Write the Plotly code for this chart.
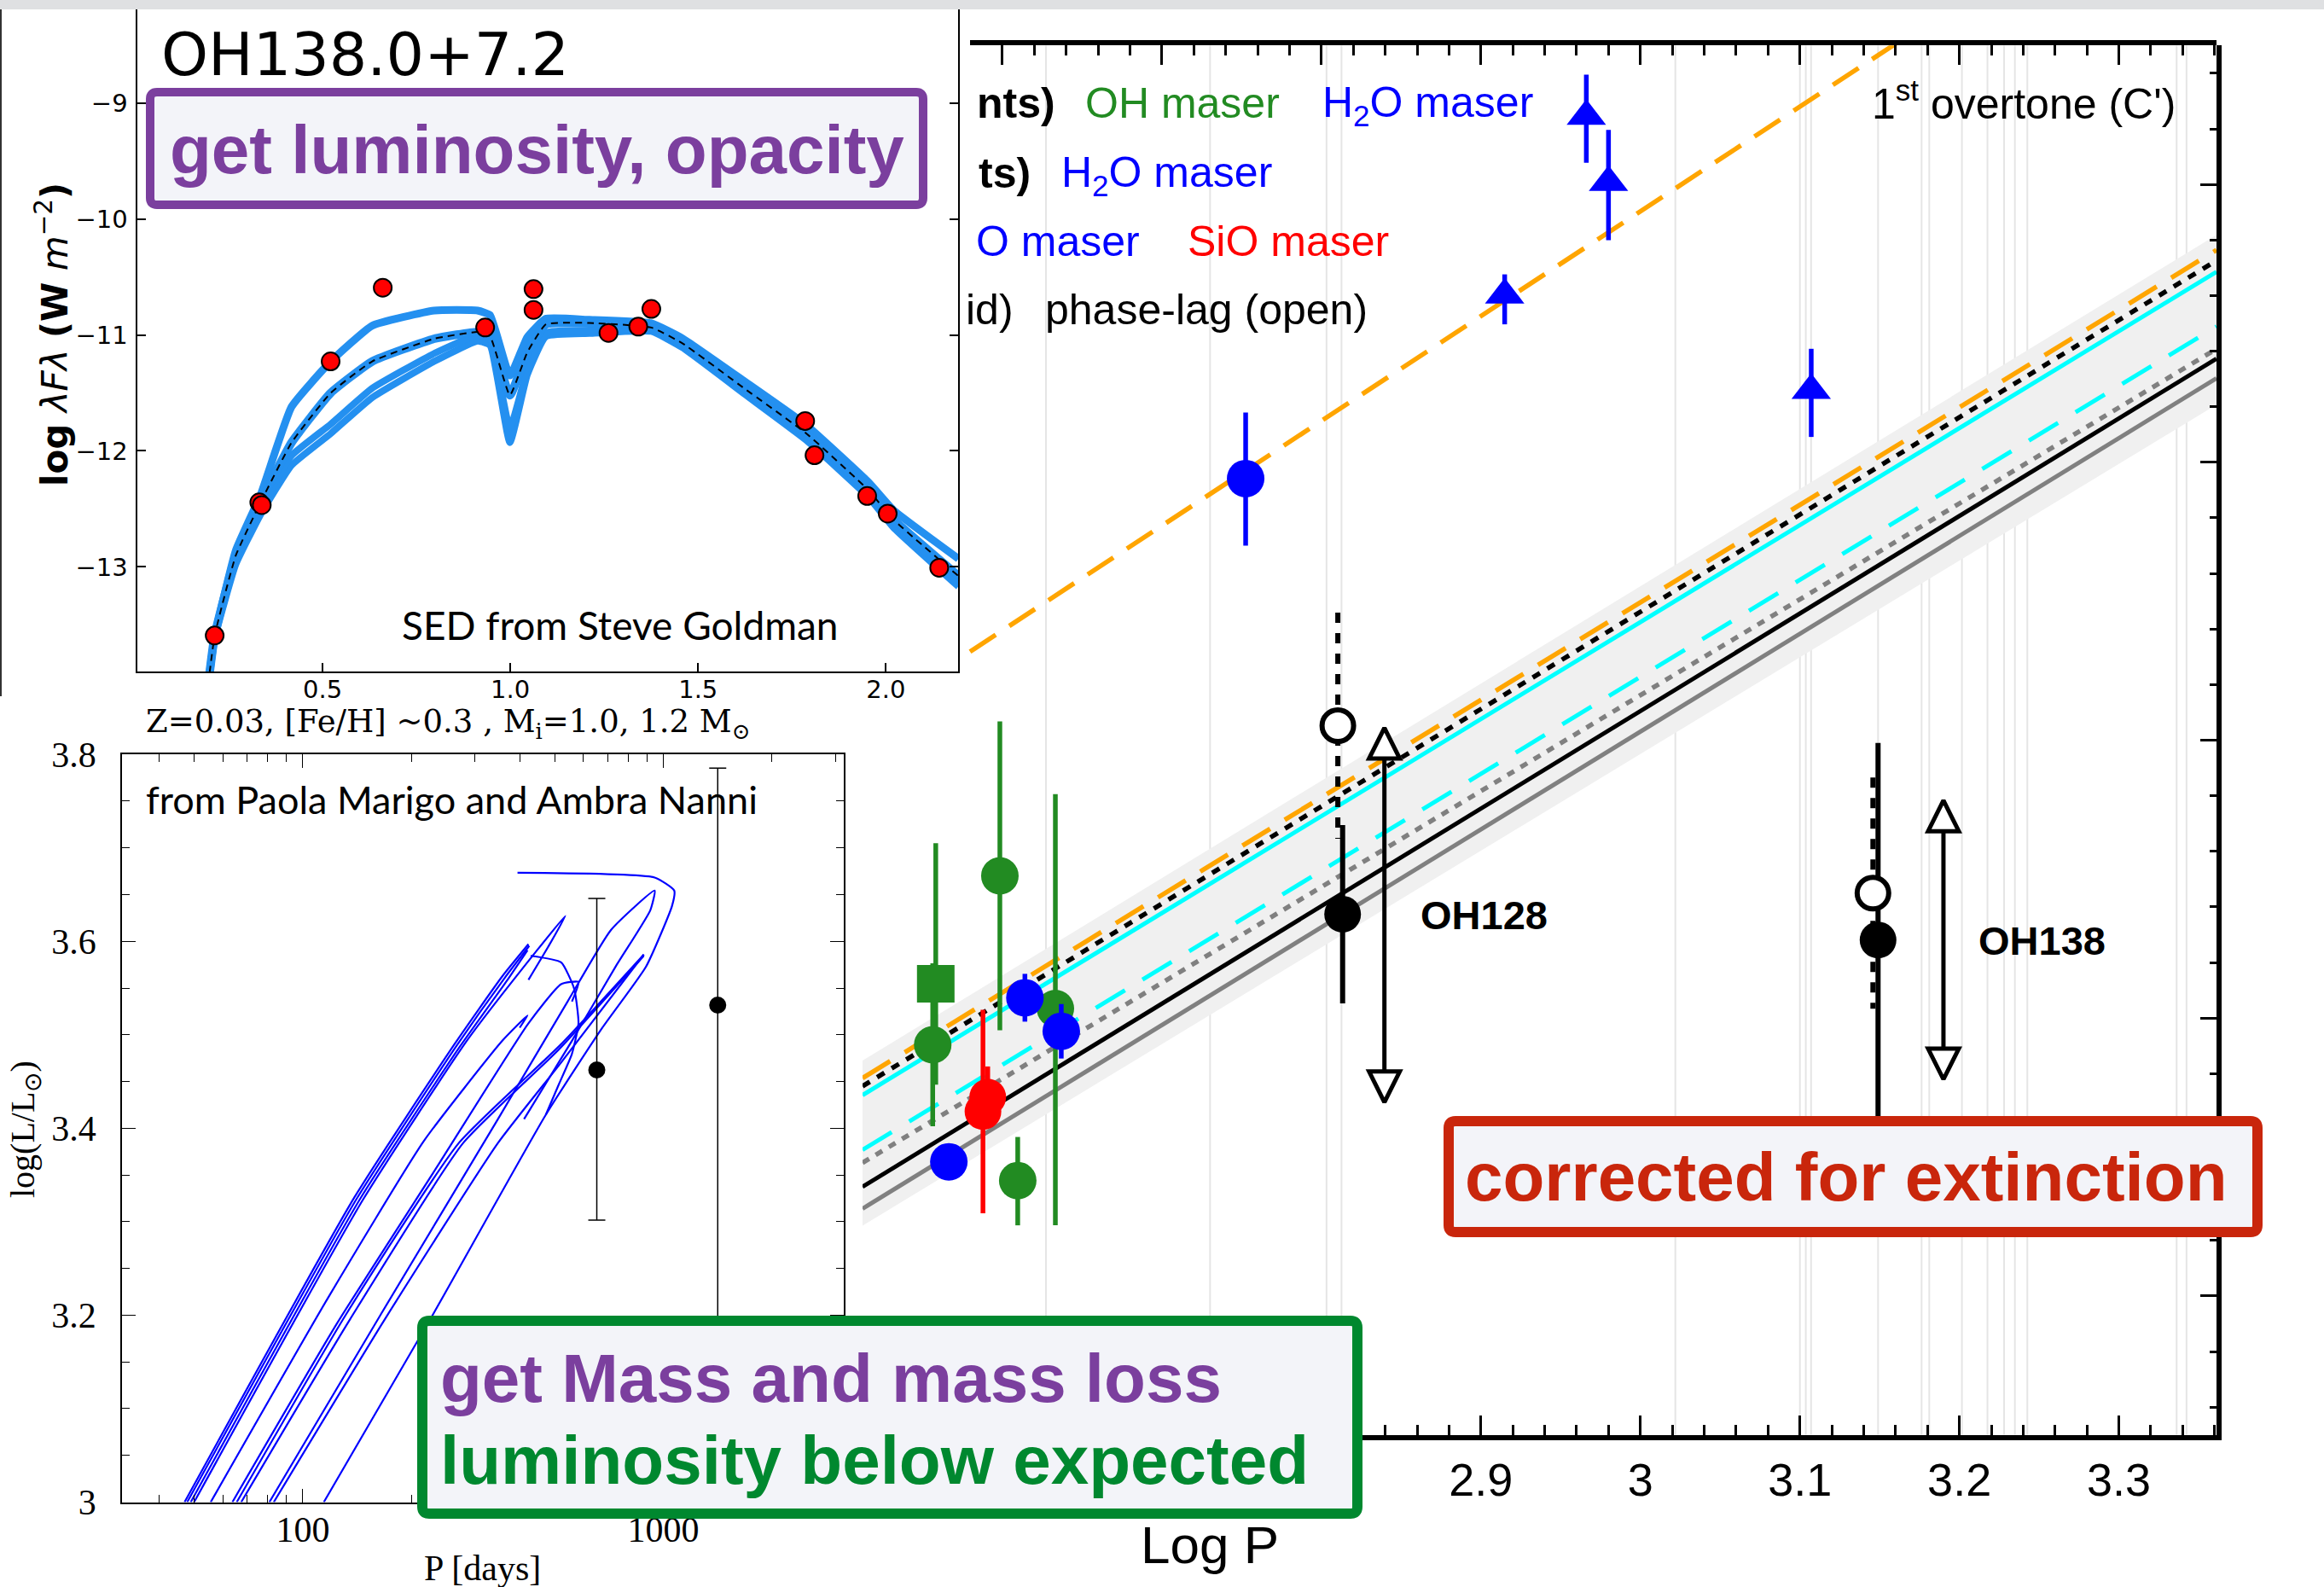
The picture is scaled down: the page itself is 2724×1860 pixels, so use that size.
import plotly.graph_objects as go

W, H = 2724, 1860


def fx(x):
    """pixel column -> paper x"""
    return x / W


def fy(y):
    """pixel row (from top) -> paper y"""
    return 1 - y / H


# ------------------------------------------------------------------
# Main panel: M_K against log P
# ------------------------------------------------------------------
LOGP_RANGE = [2.5123, 3.3612]
MK_RANGE = [-5.5, -10.5]          # reversed axis, bright at the top

# period-luminosity relations  M_K = slope * (logP - 2.5) + zp
pl_slope = [-3.52, -3.51, -3.45, -3.49, -3.49, -3.50, -3.51]
pl_zp = [-6.271, -6.350, -6.437, -6.483, -6.680, -6.712, -6.741]
band_slope = [-3.50, -3.48]
band_zp = [-6.804, -6.2105]
overtone_slope = -3.77
overtone_zp = -8.018
overtone_logp_start = 2.5797

# bottom-axis labels (the left part of the axis sits under the green box)
logp_tickvals = [2.6, 2.7, 2.8, 2.9, 3.0, 3.1, 3.2, 3.3]
logp_ticktext = ["", "", "", "2.9", "3", "3.1", "3.2", "3.3"]

# log P of the individual objects (thin guide lines)
period_logp = [2.6273, 2.7302, 2.8032, 2.8126, 3.0219, 3.1000, 3.1037, 3.1070,
               3.1490, 3.1763, 3.1811, 3.2016, 3.2176, 3.2280, 3.2348, 3.2426,
               3.3362, 3.3424]

# OH masers
oh_logp = [2.5582, 2.5563, 2.5984, 2.6332, 2.6096]
oh_mk = [-7.1233, -6.904, -7.512, -7.0343, -6.4153]
oh_err_bright = [0.506, 0.293, 0.556, 0.772, 0.157]
oh_err_faint = [0.363, 0.293, 0.556, 0.780, 0.161]
oh_kind = ["square", "circle", "circle", "circle", "circle"]

# SiO masers
sio_logp = [2.5908, 2.5878]
sio_mk = [-6.716, -6.664]
sio_err = [0.11, 0.366]

# H2O masers (points)
h2o_logp = [2.5664, 2.6141, 2.6369, 2.7525]
h2o_mk = [-6.4828, -7.0733, -6.9526, -8.9415]
h2o_err_bright = [0.0, 0.086, 0.098, 0.238]
h2o_err_faint = [0.0, 0.086, 0.098, 0.2415]

# H2O masers (lower limits)
h2o_lim_logp = [2.9661, 2.9800, 2.9149, 3.1071]
h2o_lim_mk = [-10.2455, -10.0075, -9.6022, -9.2587]
h2o_lim_err_bright = [0.1495, 0.1885, 0.0741, 0.1498]
h2o_lim_err_faint = [0.1675, 0.2078, 0.1056, 0.1674]

# OH/IR targets: distance from parallax (solid) and phase-lag (open)
target_name = ["OH128", "OH138"]
target_logp = [2.8133, 3.1490]
target_mk = [-7.374, -7.281]
target_err = [0.321, 0.709]
lag_logp = [2.8103, 3.1458]
lag_mk = [-8.0523, -7.450]
lag_err = [0.407, 0.416]
ext_logp = [2.8395, 3.1900]
ext_bright = [-8.0443, -7.7830]
ext_faint = [-6.6974, -6.7797]

# ------------------------------------------------------------------
# SED inset (OH138.0+7.2)
# ------------------------------------------------------------------
sed_logwl = [0.2126, 0.3314, 0.3380, 0.5214, 0.6602, 0.9329, 1.0617, 1.0617,
             1.2614, 1.3407, 1.3755, 1.7852, 1.8100, 1.9503, 2.0049, 2.1421]
sed_flux = [-13.592, -12.444, -12.467, -11.228, -10.593, -10.936, -10.605,
            -10.784, -10.983, -10.928, -10.776, -11.742, -12.038, -12.389,
            -12.541, -13.008]

model_logwl = [0.199, 0.2126, 0.2687, 0.3348, 0.4173, 0.5214, 0.6321, 0.7972,
               0.9129, 0.946, 0.9988, 1.0451, 1.0947, 1.2103, 1.3755, 1.4582,
               1.6234, 1.7886, 1.9538, 2.0199, 2.1934]
model_best = [-13.916, -13.592, -12.903, -12.444, -11.929, -11.501, -11.228,
              -11.033, -10.975, -11.014, -11.520, -11.150, -10.909, -10.897,
              -10.936, -11.072, -11.462, -11.851, -12.339, -12.591, -13.079]
model_hot = [-13.916, -13.600, -12.860, -12.380, -11.620, -11.230, -10.920,
             -10.790, -10.790, -10.830, -11.350, -11.020, -10.860, -10.870,
             -10.900, -11.030, -11.400, -11.780, -12.270, -12.510, -12.930]
model_thick_a = [-13.916, -13.610, -12.950, -12.500, -12.040, -11.770, -11.460,
                 -11.160, -11.000, -11.040, -11.800, -11.300, -10.980, -10.960,
                 -10.950, -11.090, -11.490, -11.880, -12.370, -12.620, -13.130]
model_thick_b = [-13.916, -13.620, -12.980, -12.550, -12.124, -11.851, -11.540,
                 -11.228, -11.053, -11.090, -11.929, -11.345, -11.014, -10.987,
                 -10.970, -11.110, -11.510, -11.910, -12.400, -12.660, -13.170]

# ------------------------------------------------------------------
# Evolutionary-track inset: log L against period (days)
# ------------------------------------------------------------------
tracks = [
    ([47.0, 139.0, 263.4, 357.6, 422.6], [3.0, 3.326, 3.4899, 3.5626, 3.597]),
    ([47.8, 141.3, 267.8, 363.6, 424.9], [3.0, 3.325, 3.489, 3.5612, 3.5952]),
    ([48.9, 144.5, 272.4, 369.8, 420.2], [3.0, 3.325, 3.4871, 3.5588, 3.5905]),
    ([49.96, 146.9, 286.4, 446.6, 535.1, 478.8, 422.6],
     [3.0, 3.3236, 3.4946, 3.5905, 3.6273, 3.5938, 3.5588]),
    ([55.54, 117.6, 216.8, 357.6, 420.2, 399.6],
     [3.0, 3.2188, 3.3865, 3.4936, 3.5207, 3.5076]),
    ([63.8, 124.3, 235.6, 422.6, 520.5, 581.7, 557.9],
     [3.0, 3.1909, 3.3586, 3.5123, 3.5542, 3.5565, 3.5356]),
    ([65.6, 131.5, 270.9, 520.5, 882.8], [3.0, 3.2002, 3.3842, 3.4899, 3.5859]),
    ([67.5, 135.2, 278.5, 513.3, 882.8], [3.0, 3.1955, 3.3842, 3.4843, 3.5845]),
    ([80.8, 164.2, 347.8, 542.6, 716.5, 946.2, 920.3, 736.8, 557.9, 410.9],
     [3.0, 3.2002, 3.4098, 3.5356, 3.6124, 3.6543, 3.6333, 3.5728, 3.4936, 3.4098]),
    ([83.1, 168.8, 347.8, 520.5, 882.8], [3.0, 3.1955, 3.3842, 3.4703, 3.5859]),
    ([114.4, 229.2, 472.2, 677.7, 895.1, 1057.4, 1072.2, 946.2, 394.1],
     [3.0, 3.2002, 3.4145, 3.5076, 3.5728, 3.638, 3.6543, 3.6683, 3.6734]),
    ([428.5, 520.5, 565.7, 581.7, 557.9, 513.3, 472.2],
     [3.5845, 3.5775, 3.5495, 3.5123, 3.4797, 3.4471, 3.4145]),
]
star_period = [653.9, 1415.6]
star_logl = [3.4624, 3.5318]
star_err_up = [0.1835, 0.2536]
star_err_down = [0.1607, 0.35]

ARIAL = "Liberation Sans, Arial, Helvetica, sans-serif"
DEJAVU = "DejaVu Sans, sans-serif"
SERIF = "Liberation Serif, Times New Roman, serif"
GILL = "Lato, Open Sans, sans-serif"

fig = go.Figure()


def pl_line(slope, zp, x0, x1):
    return [x0, x1], [slope * (x0 - 2.5) + zp, slope * (x1 - 2.5) + zp]


# thin guide lines at each object's period
gx, gy = [], []
for lp in period_logp:
    gx += [lp, lp, None]
    gy += [MK_RANGE[1], MK_RANGE[0], None]
fig.add_trace(go.Scatter(x=gx, y=gy, mode="lines", hoverinfo="skip",
                         line=dict(color="#e5e5e5", width=2), xaxis="x", yaxis="y"))

# scatter band around the relations
x0, x1 = LOGP_RANGE
_, top = pl_line(band_slope[0], band_zp[0], x0, x1)
_, bot = pl_line(band_slope[1], band_zp[1], x0, x1)
fig.add_trace(go.Scatter(x=[x0, x1, x1, x0], y=[top[0], top[1], bot[1], bot[0]],
                         mode="lines", fill="toself", fillcolor="#f0f0f0",
                         line=dict(width=0), hoverinfo="skip", xaxis="x", yaxis="y"))

pl_style = [
    dict(color="#808080", width=5),
    dict(color="#000000", width=5),
    dict(color="#808080", width=5.5, dash="9px,9px"),
    dict(color="#00ffff", width=5, dash="40px,24px"),
    dict(color="#00ffff", width=5),
    dict(color="#000000", width=5.5, dash="10px,10px"),
    dict(color="#ffa500", width=5.5, dash="38px,20px"),
]
for s, z, st in zip(pl_slope, pl_zp, pl_style):
    lx, ly = pl_line(s, z, x0, x1)
    fig.add_trace(go.Scatter(x=lx, y=ly, mode="lines", line=st, hoverinfo="skip",
                             xaxis="x", yaxis="y"))

lx, ly = pl_line(overtone_slope, overtone_zp, overtone_logp_start, x1)
fig.add_trace(go.Scatter(x=lx, y=ly, mode="lines", hoverinfo="skip",
                         line=dict(color="#ffa500", width=5.5, dash="36px,19px"),
                         xaxis="x", yaxis="y"))

# maser samples
fig.add_trace(go.Scatter(
    x=oh_logp, y=oh_mk, mode="markers", xaxis="x", yaxis="y",
    marker=dict(symbol=oh_kind, size=44, color="#228b22"),
    error_y=dict(type="data", array=oh_err_faint, arrayminus=oh_err_bright,
                 color="#228b22", thickness=5.5, width=0)))
fig.add_trace(go.Scatter(
    x=sio_logp, y=sio_mk, mode="markers", xaxis="x", yaxis="y",
    marker=dict(symbol="circle", size=43, color="#ff0000"),
    error_y=dict(type="data", array=sio_err, color="#ff0000", thickness=5.5, width=0)))
fig.add_trace(go.Scatter(
    x=h2o_logp, y=h2o_mk, mode="markers", xaxis="x", yaxis="y",
    marker=dict(symbol="circle", size=44, color="#0000ff"),
    error_y=dict(type="data", array=h2o_err_faint, arrayminus=h2o_err_bright,
                 color="#0000ff", thickness=5.5, width=0)))
fig.add_trace(go.Scatter(
    x=h2o_lim_logp, y=h2o_lim_mk, mode="markers", xaxis="x", yaxis="y",
    marker=dict(symbol="triangle-up", size=40, color="#0000ff"),
    error_y=dict(type="data", array=h2o_lim_err_faint, arrayminus=h2o_lim_err_bright,
                 color="#0000ff", thickness=5.5, width=0)))

# OH/IR targets
for i in range(len(target_name)):
    fig.add_trace(go.Scatter(
        x=[lag_logp[i], lag_logp[i]],
        y=[lag_mk[i] - lag_err[i], lag_mk[i] + lag_err[i]],
        mode="lines", line=dict(color="black", width=6, dash="12px,12px"),
        hoverinfo="skip", xaxis="x", yaxis="y"))
    fig.add_trace(go.Scatter(
        x=[target_logp[i], target_logp[i]],
        y=[target_mk[i] - target_err[i], target_mk[i] + target_err[i]],
        mode="lines", line=dict(color="black", width=6),
        hoverinfo="skip", xaxis="x", yaxis="y"))
    fig.add_trace(go.Scatter(
        x=[lag_logp[i]], y=[lag_mk[i]], mode="markers", xaxis="x", yaxis="y",
        marker=dict(symbol="circle", size=37, color="white",
                    line=dict(color="black", width=6))))
    fig.add_trace(go.Scatter(
        x=[target_logp[i]], y=[target_mk[i]], mode="markers", xaxis="x", yaxis="y",
        marker=dict(symbol="circle", size=43, color="black")))
    fig.add_trace(go.Scatter(
        x=[ext_logp[i], ext_logp[i]], y=[ext_bright[i], ext_faint[i]],
        mode="lines+markers", xaxis="x", yaxis="y", hoverinfo="skip",
        line=dict(color="black", width=5),
        marker=dict(symbol=["arrow-up", "arrow-down"], size=36, color="white",
                    line=dict(color="black", width=5))))

# top axis of the main panel (its own subplot so it starts right of the SED inset)
fig.add_trace(go.Scatter(x=[None], y=[None], xaxis="x3", yaxis="y3", hoverinfo="skip"))

# SED inset
for ys, wdt in [(model_thick_b, 8), (model_thick_a, 8), (model_hot, 9), (model_best, 10)]:
    fig.add_trace(go.Scatter(x=model_logwl, y=ys, mode="lines", hoverinfo="skip",
                             line=dict(color="#2490f0", width=wdt, shape="spline",
                                       smoothing=0.4),
                             xaxis="x2", yaxis="y2"))
fig.add_trace(go.Scatter(x=model_logwl, y=model_best, mode="lines", hoverinfo="skip",
                         line=dict(color="black", width=2, dash="8px,6px",
                                   shape="spline", smoothing=0.4),
                         xaxis="x2", yaxis="y2"))
fig.add_trace(go.Scatter(x=sed_logwl, y=sed_flux, mode="markers", xaxis="x2", yaxis="y2",
                         marker=dict(size=21, color="#ff0000",
                                     line=dict(color="black", width=2))))

# evolutionary-track inset
for tp, tl in tracks:
    fig.add_trace(go.Scatter(x=tp, y=tl, mode="lines", hoverinfo="skip",
                             line=dict(color="#0000ff", width=2.2, shape="spline",
                                       smoothing=0.5),
                             xaxis="x4", yaxis="y4"))
fig.add_trace(go.Scatter(x=star_period, y=star_logl, mode="markers", xaxis="x4", yaxis="y4",
                         marker=dict(size=20, color="black"),
                         error_y=dict(type="data", array=star_err_up,
                                      arrayminus=star_err_down, color="black",
                                      thickness=1.5, width=10)))

# ------------------------------------------------------------------
# axes
# ------------------------------------------------------------------
main_ydom = [fy(1681.8), fy(53.3)]
common = dict(showgrid=False, zeroline=False, automargin=False)
layout = dict(
    template="none",
    width=W, height=H, margin=dict(l=0, r=0, t=0, b=0, pad=0, autoexpand=False),
    paper_bgcolor="white", plot_bgcolor="rgba(0,0,0,0)", showlegend=False,
    xaxis=dict(domain=[fx(1011), fx(2598)], range=LOGP_RANGE, anchor="y",
               showline=True, linewidth=6, linecolor="black", mirror=False,
               ticks="inside", ticklen=23, tickwidth=3, tickcolor="black",
               tickmode="array", tickvals=logp_tickvals, ticktext=logp_ticktext,
               minor=dict(ticks="inside", ticklen=12, tickwidth=3, tickcolor="black",
                          tickmode="linear", tick0=2.5, dtick=0.02),
               tickfont=dict(family=ARIAL, size=54, color="black"),
               ticklabelstandoff=0, **common),
    yaxis=dict(domain=main_ydom, range=MK_RANGE, anchor="x", side="right",
               showline=True, linewidth=6, linecolor="black",
               ticks="inside", ticklen=19, tickwidth=3, tickcolor="black",
               tickmode="linear", tick0=-10, dtick=1,
               minor=dict(ticks="inside", ticklen=8, tickwidth=3, tickcolor="black",
                          tickmode="linear", tick0=-10, dtick=0.2),
               showticklabels=False, **common),
    xaxis3=dict(domain=[fx(1137), fx(2598)], range=[2.5797, LOGP_RANGE[1]],
                anchor="y3", side="top",
                showline=True, linewidth=6, linecolor="black",
                ticks="inside", ticklen=23, tickwidth=3, tickcolor="black",
                tickmode="linear", tick0=2.5, dtick=0.1,
                minor=dict(ticks="inside", ticklen=12, tickwidth=3, tickcolor="black",
                           tickmode="linear", tick0=2.5, dtick=0.02),
                showticklabels=False, **common),
    yaxis3=dict(domain=main_ydom, range=[0, 1], anchor="x3", visible=False, **common),
    xaxis2=dict(domain=[fx(161.4), fx(1123.3)], range=[0.0076, 2.1931], anchor="y2",
                showline=True, linewidth=2, linecolor="black", mirror=False,
                ticks="inside", ticklen=10, tickwidth=2, tickcolor="black",
                tickvals=[0.5, 1.0, 1.5, 2.0], ticktext=["0.5", "1.0", "1.5", "2.0"],
                tickfont=dict(family=DEJAVU, size=29, color="black"),
                ticklabelstandoff=-6, **common),
    yaxis2=dict(domain=[fy(787.2), fy(11)], range=[-13.9036, -8.193], anchor="x2",
                showline=True, linewidth=2, linecolor="black", mirror="ticks",
                ticks="inside", ticklen=10, tickwidth=2, tickcolor="black",
                tickvals=[-13, -12, -11, -10, -9],
                ticktext=["\u221213", "\u221212", "\u221211", "\u221210", "\u22129"],
                tickfont=dict(family=DEJAVU, size=29, color="black"),
                ticklabelstandoff=4, **common),
    xaxis4=dict(domain=[fx(143), fx(988.7)], type="log", range=[1.4986, 3.4998],
                anchor="y4", showline=True, linewidth=1.6, linecolor="black",
                mirror="ticks", ticks="inside", ticklen=16, tickwidth=1.4,
                tickcolor="black", tickvals=[100, 1000], ticktext=["100", "1000"],
                minor=dict(ticks="inside", ticklen=9, tickwidth=1.4, tickcolor="black",
                           tickvals=[40, 50, 60, 70, 80, 90, 200, 300, 400, 500, 600,
                                     700, 800, 900, 2000, 3000]),
                tickfont=dict(family=SERIF, size=42, color="black"),
                ticklabelstandoff=-6, **common),
    yaxis4=dict(domain=[fy(1760.5), fy(884.2)], range=[3.0, 3.8], anchor="x4",
                showline=True, linewidth=1.6, linecolor="black", mirror="ticks",
                ticks="inside", ticklen=16, tickwidth=1.4, tickcolor="black",
                tickvals=[3.0, 3.2, 3.4, 3.6, 3.8],
                ticktext=["3", "3.2", "3.4", "3.6", "3.8"],
                minor=dict(ticks="inside", ticklen=9, tickwidth=1.4, tickcolor="black",
                           tickmode="linear", tick0=3.0, dtick=0.05),
                tickfont=dict(family=SERIF, size=42, color="black"),
                ticklabelstandoff=20, **common),
)
fig.update_layout(**layout)


# ------------------------------------------------------------------
# boxes and text
# ------------------------------------------------------------------
def rounded_box(x0, y0, x1, y1, color, width, r=8):
    p = (f"M {fx(x0 + r)},{fy(y0)} L {fx(x1 - r)},{fy(y0)} "
         f"Q {fx(x1)},{fy(y0)} {fx(x1)},{fy(y0 + r)} L {fx(x1)},{fy(y1 - r)} "
         f"Q {fx(x1)},{fy(y1)} {fx(x1 - r)},{fy(y1)} L {fx(x0 + r)},{fy(y1)} "
         f"Q {fx(x0)},{fy(y1)} {fx(x0)},{fy(y1 - r)} L {fx(x0)},{fy(y0 + r)} "
         f"Q {fx(x0)},{fy(y0)} {fx(x0 + r)},{fy(y0)} Z")
    return dict(type="path", path=p, xref="paper", yref="paper", layer="above",
                fillcolor="#f3f4f9", line=dict(color=color, width=width))


PURPLE = "#7b3f9e"
GREEN = "#00882f"
RED = "#c9260c"

shapes = [
    dict(type="rect", xref="paper", yref="paper", x0=0, x1=1, y0=fy(11), y1=1,
         fillcolor="#dfe0e2", line=dict(width=0), layer="above"),
    dict(type="line", xref="paper", yref="paper", x0=fx(1), x1=fx(1),
         y0=fy(11), y1=fy(816), line=dict(color="#333333", width=2), layer="above"),
    rounded_box(176, 108, 1082, 240, PURPLE, 10),
    rounded_box(495, 1548, 1591, 1774, GREEN, 12),
    rounded_box(1698, 1314, 2646, 1444, RED, 12),
]
fig.update_layout(shapes=shapes)

ann = []


def txt(x, y, text, size, color="black", family=ARIAL, xanchor="center",
        yanchor="middle", angle=0):
    ann.append(dict(x=fx(x), y=fy(y), xref="paper", yref="paper", text=text,
                    showarrow=False, xanchor=xanchor, yanchor=yanchor,
                    textangle=angle, font=dict(family=family, size=size, color=color)))


# SED inset text
txt(187, 64, "OH138.0+7.2", 70, family=DEJAVU, xanchor="left")
txt(727, 733, "SED from Steve Goldman", 46, family=GILL)
txt(62, 392, "<b>log</b> <i>\u03bbF\u03bb</i> <b>(W</b> <i>m</i><sup>\u22122</sup><b>)</b>",
    42, family=DEJAVU, angle=-90)

# track inset text
txt(525, 848, "Z=0.03, [Fe/H] ~0.3 , M<sub>i</sub>=1.0, 1.2 M<sub>\u2299</sub>", 37,
    family="DejaVu Serif, serif")
txt(169, 937, "from Paola Marigo and Ambra Nanni", 45, family=GILL, xanchor="left")
txt(29, 1324, "log(L/L<sub>\u2299</sub>)", 40, family=SERIF, angle=-90)
txt(565, 1838, "P [days]", 42, family=SERIF)

# main panel legend text
txt(1239, 121, "<b>nts)</b>", 50, xanchor="right")
txt(1270, 121, "OH maser", 50, color="#228b22", xanchor="left")
txt(1548, 124, "H<sub>2</sub>O maser", 50, color="#0000ff", xanchor="left")
txt(1210, 203, "<b>ts)</b>", 50, xanchor="right")
txt(1242, 206, "H<sub>2</sub>O maser", 50, color="#0000ff", xanchor="left")
txt(1142, 283, "O maser", 50, color="#0000ff", xanchor="left")
txt(1390, 283, "SiO maser", 50, color="#ff0000", xanchor="left")
txt(1190, 363, "id)", 50, xanchor="right")
txt(1223, 363, "phase-lag (open)", 50, xanchor="left")
txt(2552, 152, "1<sup>st</sup> overtone (C')", 50, xanchor="right", yanchor="bottom")

txt(1663, 1072, "<b>OH128</b>", 47, xanchor="left")
txt(2317, 1102, "<b>OH138</b>", 47, xanchor="left")
txt(1418, 1810, "Log P", 62)

# boxed statements
txt(629, 176, "<b>get luminosity, opacity</b>", 80, color=PURPLE)
txt(514, 1615, "<b>get Mass and mass loss</b>", 80, color=PURPLE, xanchor="left")
txt(514, 1711, "<b>luminosity below expected</b>", 80, color=GREEN, xanchor="left")
txt(2164, 1379, "<b>corrected for extinction</b>", 80, color=RED)

fig.update_layout(annotations=ann)

fig.write_html("out.html")
